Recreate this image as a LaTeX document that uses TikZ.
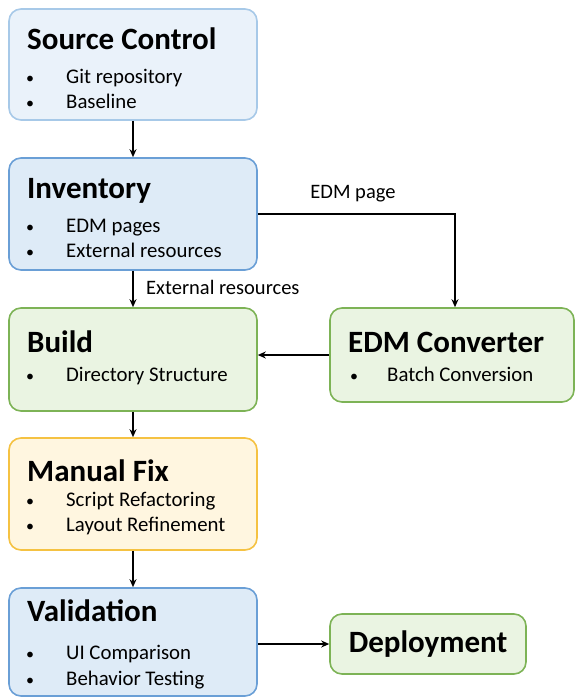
\documentclass[tikz,border=0pt]{standalone}
\usepackage{fontspec}
\setmainfont{Carlito}
\usetikzlibrary{arrows.meta}

\definecolor{scfill}{HTML}{EAF2FA}
\definecolor{scline}{HTML}{A7C9E8}
\definecolor{bluefill}{HTML}{DEEBF7}
\definecolor{blueline}{HTML}{6A9FD6}
\definecolor{greenfill}{HTML}{EAF4E2}
\definecolor{greenline}{HTML}{7DB356}
\definecolor{yellowfill}{HTML}{FFF6E0}
\definecolor{yellowline}{HTML}{F5C242}

\tikzset{
  box/.style={draw, rounded corners=12pt, line width=1.6pt, inner sep=0pt},
  scbox/.style={box, fill=scfill, draw=scline},
  bluebox/.style={box, fill=bluefill, draw=blueline},
  greenbox/.style={box, fill=greenfill, draw=greenline},
  yellowbox/.style={box, fill=yellowfill, draw=yellowline},
  title/.style={anchor=base west, inner sep=0pt, font=\bfseries\fontsize{31}{36}\selectfont},
  item/.style={anchor=base west, inner sep=0pt, font=\fontsize{20.8}{24}\selectfont},
  dot/.style={anchor=base, inner sep=0pt, font=\fontsize{16}{20}\selectfont},
  lbl/.style={inner sep=0pt, font=\fontsize{20.5}{24}\selectfont},
  arrow/.style={-{Stealth[length=8pt,width=7pt]}, line width=1.4pt}
}

\begin{document}
\begin{tikzpicture}[x=1pt,y=-1pt]
  \useasboundingbox (0,0) rectangle (575,697);

  % boxes
  \node[scbox,minimum width=248pt,minimum height=111pt] (SC) at (133,64.5) {};
  \node[bluebox,minimum width=248pt,minimum height=112pt] (INV) at (133,214) {};
  \node[greenbox,minimum width=248pt,minimum height=103pt] (BLD) at (133,359.5) {};
  \node[greenbox,minimum width=244pt,minimum height=94pt] (EDM) at (452,355) {};
  \node[yellowbox,minimum width=248pt,minimum height=112pt] (FIX) at (133,494) {};
  \node[bluebox,minimum width=248pt,minimum height=108pt] (VAL) at (133,642) {};
  \node[greenbox,minimum width=196pt,minimum height=60pt] (DEP) at (428,644) {};

  % titles
  \node[title] (tSC) at (27,49) {Source Control};
  \node[title] (tINV) at (27,198) {Inventory};
  \node[title] (tBLD) at (27,352) {Build};
  \node[title] (tEDM) at (348,352) {EDM Converter};
  \node[title] (tFIX) at (27,481) {Manual Fix};
  \node[title] (tVAL) at (27,621) {Validation};
  \node[title,anchor=center] (tDEP) at (DEP) {Deployment};

  % bullet items
  \node[dot] (b1) at (30,83) {•};   \node[item] (i1) at (66,83) {Git repository};
  \node[dot] (b2) at (30,108) {•};  \node[item] (i2) at (66,108) {Baseline};
  \node[dot] (b3) at (30,232) {•};  \node[item] (i3) at (66,232) {EDM pages};
  \node[dot] (b4) at (30,257) {•};  \node[item] (i4) at (66,257) {External resources};
  \node[dot] (b5) at (30,381) {•};  \node[item] (i5) at (66,381) {Directory Structure};
  \node[dot] (b6) at (354,381) {•}; \node[item] (i6) at (387,381) {Batch Conversion};
  \node[dot] (b7) at (30,506) {•};  \node[item] (i7) at (66,506) {Script Refactoring};
  \node[dot] (b8) at (30,531) {•};  \node[item] (i8) at (66,531) {Layout Refinement};
  \node[dot] (b9) at (30,659) {•};  \node[item] (i9) at (66,659) {UI Comparison};
  \node[dot] (b10) at (30,685) {•}; \node[item] (i10) at (66,685) {Behavior Testing};

  % connectors
  \draw[arrow] (SC) -- (INV);
  \draw[arrow] (INV) -- (BLD);
  \draw[arrow] (INV.east) -| ([xshift=3pt]EDM.north);
  \draw[arrow] (EDM.west) -- (EDM.west -| BLD.east);
  \draw[arrow] (BLD) -- (FIX);
  \draw[arrow] (FIX) -- (VAL);
  \draw[arrow] (DEP.west -| VAL.east) -- (DEP.west);

  % connector labels
  \node[lbl] (lEDM) at (353,194) {EDM page};
  \node[lbl,anchor=west] (lEXT) at (146,287) {External resources};
\end{tikzpicture}
\end{document}
